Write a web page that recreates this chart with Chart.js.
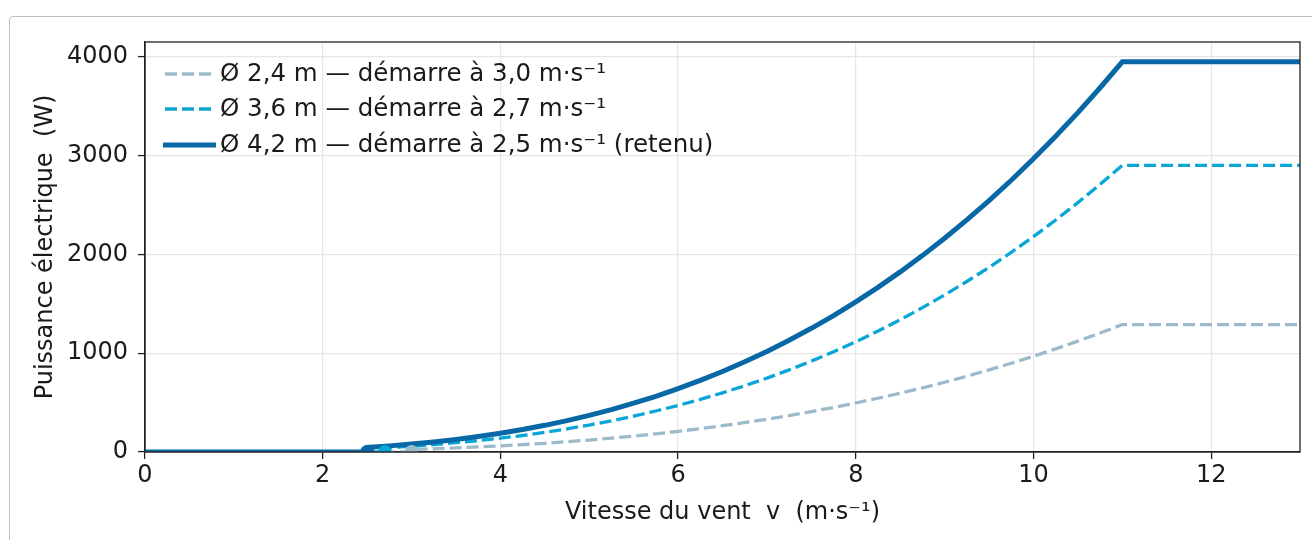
<!DOCTYPE html>
<html><head><meta charset="utf-8">
<script src="https://cdn.jsdelivr.net/npm/chart.js@4.4.1/dist/chart.umd.min.js"></script>
<style>
html,body{margin:0;padding:0;background:#fff;overflow:hidden;}
#wrap{position:relative;width:1312px;height:540px;}
#card{position:absolute;left:9px;top:16px;width:1400px;height:600px;border:1px solid #bdbdbd;border-radius:4px;box-sizing:border-box;}
canvas{position:absolute;left:0;top:0;}
</style></head>
<body><div id="wrap"><div id="card"></div><canvas id="c" width="1312" height="540"></canvas></div>
<script>
// Vitesse du vent (m/s) and puissance (W)
const labels = [
  'Ø 2,4 m — démarre à 3,0 m·s⁻¹',
  'Ø 3,6 m — démarre à 2,7 m·s⁻¹',
  'Ø 4,2 m — démarre à 2,5 m·s⁻¹ (retenu)'
];
const cutIn = [3.0, 2.7, 2.5];

const v24 = [0, 2.98, 3.0, 3.25, 3.5, 3.75, 4.0, 4.25, 4.5, 4.75, 5.0, 5.25, 5.5, 5.75, 6.0, 6.25, 6.5, 6.75, 7.0, 7.25, 7.5, 7.75, 8.0, 8.25, 8.5, 8.75, 9.0, 9.25, 9.5, 9.75, 10.0, 10.25, 10.5, 10.75, 11.0, 13];
const p24 = [0, 0, 26, 33, 42, 51, 62, 74, 88, 104, 121, 140, 161, 184, 209, 237, 266, 298, 332, 369, 409, 451, 496, 544, 595, 649, 706, 767, 831, 898, 969, 1044, 1122, 1204, 1290, 1290];

const v36 = [0, 2.68, 2.7, 3.0, 3.25, 3.5, 3.75, 4.0, 4.25, 4.5, 4.75, 5.0, 5.25, 5.5, 5.75, 6.0, 6.25, 6.5, 6.75, 7.0, 7.25, 7.5, 7.75, 8.0, 8.25, 8.5, 8.75, 9.0, 9.25, 9.5, 9.75, 10.0, 10.25, 10.5, 10.75, 11.0, 13];
const p36 = [0, 0, 43, 59, 75, 94, 115, 140, 167, 199, 234, 273, 316, 363, 415, 471, 532, 599, 671, 748, 831, 920, 1015, 1116, 1224, 1339, 1461, 1590, 1726, 1869, 2021, 2180, 2348, 2524, 2709, 2902, 2902];

const v42 = [0, 2.48, 2.5, 2.75, 3.0, 3.25, 3.5, 3.75, 4.0, 4.25, 4.5, 4.75, 5.0, 5.25, 5.5, 5.75, 6.0, 6.25, 6.5, 6.75, 7.0, 7.25, 7.5, 7.75, 8.0, 8.25, 8.5, 8.75, 9.0, 9.25, 9.5, 9.75, 10.0, 10.25, 10.5, 10.75, 11.0, 13];
const p42 = [0, 0, 46, 62, 80, 102, 127, 157, 190, 228, 270, 318, 371, 429, 494, 564, 641, 725, 815, 913, 1018, 1131, 1252, 1381, 1520, 1666, 1823, 1988, 2164, 2349, 2544, 2751, 2968, 3196, 3435, 3687, 3950, 3950];

const xTicks = [0, 2, 4, 6, 8, 10, 12];
const yTicks = [0, 1000, 2000, 3000, 4000];

const colors = ['#9dbacb', '#0aa6d8', '#0868a6'];
const FONT = "'DejaVu Sans', sans-serif";
const FS = 24;
const LFS = 24.5;

function pts(xs, ys){ return xs.map((x,i)=>({x:x, y:ys[i]})); }

const datasets = [
  {label: labels[0], data: pts(v24, p24), borderColor: colors[0], borderWidth: 3.3, borderDash: [12, 5], pointRadius: 0, tension: 0, order: 3, fill:false},
  {label: labels[1], data: pts(v36, p36), borderColor: colors[1], borderWidth: 3.3, borderDash: [12, 5], pointRadius: 0, tension: 0, order: 2, fill:false},
  {label: labels[2], data: pts(v42, p42), borderColor: colors[2], borderWidth: 5, pointRadius: 0, tension: 0, order: 1, fill:false, borderCapStyle: 'round'},
];
cutIn.forEach((c, i) => {
  datasets.push({label: '_dot' + i, data: [{x: c, y: 0}], showLine: false, pointRadius: 7, pointHoverRadius: 7,
    pointBackgroundColor: colors[i], pointBorderWidth: 0, borderColor: colors[i], order: 0});
});

const frame = {
  id: 'frame',
  afterDatasetsDraw(chart){
    const a = chart.chartArea, ctx = chart.ctx;
    ctx.save();
    ctx.strokeStyle = '#222'; ctx.lineWidth = 1.3;
    ctx.strokeRect(a.left, a.top, a.right - a.left, a.bottom - a.top);
    ctx.restore();
  },
  afterDraw(chart){
    const ctx = chart.ctx;
    ctx.save();
    ctx.font = LFS + 'px ' + FONT;
    ctx.textBaseline = 'middle';
    ctx.fillStyle = '#1a1a1a';
    const rows = [74, 109, 145];
    for (let i = 0; i < 3; i++){
      const y = rows[i];
      ctx.beginPath();
      ctx.strokeStyle = colors[i];
      if (i < 2){ ctx.lineWidth = 3.3; ctx.setLineDash([12, 5]); ctx.moveTo(165, y); ctx.lineTo(213, y); }
      else { ctx.lineWidth = 5; ctx.setLineDash([]); ctx.moveTo(163, y); ctx.lineTo(216, y); }
      ctx.stroke();
      ctx.setLineDash([]);
      ctx.fillText(labels[i], 220, y + 1);
    }
    ctx.restore();
  }
};

new Chart(document.getElementById('c'), {
  type: 'line',
  data: {datasets},
  options: {
    responsive: false, animation: false, devicePixelRatio: 1,
    layout: {padding: {left: 0, top: 42, right: 12, bottom: 0}},
    plugins: {legend: {display: false}, tooltip: {enabled: false}},
    scales: {
      x: {
        type: 'linear', min: 0, max: 13,
        afterFit(s){ s.height = 88; },
        afterBuildTicks(s){ s.ticks = xTicks.map(v => ({value: v})); },
        grid: {color: '#e6e6e6', lineWidth: 1.2, tickColor: '#222', tickLength: 7, tickWidth: 1.3},
        border: {color: '#222', width: 1.3},
        ticks: {color: '#1a1a1a', font: {family: FONT, size: FS}, padding: 2, maxRotation: 0, callback: v => String(v)},
        title: {display: true, text: 'Vitesse du vent  v  (m·s⁻¹)', color: '#1a1a1a', font: {family: FONT, size: FS}, padding: {top: 0, bottom: 13}}
      },
      y: {
        type: 'linear', min: 0, max: 4150,
        afterFit(s){ s.width = 145; },
        afterBuildTicks(s){ s.ticks = yTicks.map(v => ({value: v})); },
        grid: {color: '#e6e6e6', lineWidth: 1.2, tickColor: '#222', tickLength: 7, tickWidth: 1.3},
        border: {color: '#222', width: 1.3},
        ticks: {color: '#1a1a1a', font: {family: FONT, size: FS}, padding: 10, callback: v => String(v)},
        title: {display: true, text: 'Puissance électrique  (W)', color: '#1a1a1a', font: {family: FONT, size: FS}, padding: {top: 31, bottom: 0}}
      }
    }
  },
  plugins: [frame]
});
</script></body></html>
